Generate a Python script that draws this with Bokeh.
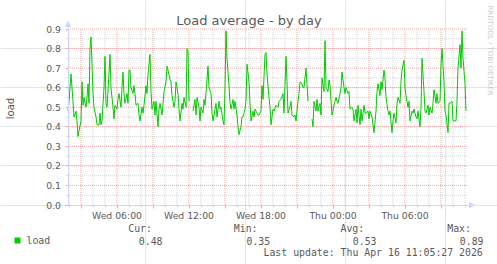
import math
from bokeh.plotting import figure
from bokeh.models import Range1d, FixedTicker, Label, Arrow, NormalHead, LinearAxis
from bokeh.embed import file_html
from bokeh.resources import INLINE

nan = float("nan")

# minutes after Wed 2026-04-15 00:00
minutes = [
    115, 120, 130, 140, 145, 155, 160, 165, 170, 180,
    185, 190, 195, 205, 210, 215, 220, 225, 230, 235,
    240, 245, 255, 260, 270, 275, 280, 285, 295, 300,
    305, 310, 320, 325, 330, 340, 345, 350, 360, 365,
    370, 380, 385, 390, 395, 400, 410, 415, 420, 425,
    430, 440, 445, 450, 455, 465, 470, 475, 485, 490,
    495, 505, 510, 515, 525, 530, 535, 545, 550, 555,
    565, 570, 575, 585, 590, 595, 605, 610, 615, 625,
    630, 635, 645, 650, 655, 665, 670, 675, 685, 690,
    695, 705, 710, 715, 720, 730, 740, 750, 755, 760,
    770, 775, 780, 790, 795, 800, 810, 815, 820, 830,
    835, 840, 850, 855, 860, 870, 875, 880, 890, 895,
    900, 905, 910, 920, 925, 930, 940, 945, 950, 960,
    965, 970, 980, 985, 990, 1000, 1005, 1010, 1020, 1025,
    1030, 1040, 1045, 1050, 1060, 1065, 1070, 1080, 1085, 1090,
    1100, 1105, 1110, 1120, 1125, 1130, 1140, 1145, 1155, 1165,
    1170, 1180, 1190, 1195, 1205, 1210, 1215, 1225, 1230, 1235,
    1245, 1250, 1255, 1265, 1270, 1275, 1285, 1290, 1295, 1305,
    1310, 1315, 1325, 1335, 1340, 1345, 1355, 1360, 1365, 1375,
    1380, 1385, 1395, 1400, 1405, 1415, 1420, 1425, 1435, 1440,
    1445, 1455, 1460, 1465, 1475, 1480, 1485, 1495, 1500, 1505,
    1515, 1520, 1525, 1535, 1540, 1545, 1555, 1560, 1565, 1575,
    1580, 1585, 1595, 1600, 1605, 1615, 1620, 1625, 1635, 1640,
    1645, 1655, 1660, 1665, 1675, 1680, 1685, 1695, 1700, 1705,
    1715, 1720, 1725, 1735, 1740, 1745, 1755, 1760, 1765, 1775,
    1780, 1785, 1795, 1800, 1805, 1815, 1820, 1825, 1835, 1840,
    1845, 1855, 1860, 1865, 1875, 1880, 1885, 1895, 1900, 1905,
    1915, 1920, 1925, 1935, 1940, 1945, 1955, 1960, 1965, 1975,
    1980, 1985, 1995, 2000, 2005, 2015, 2020, 2025, 2035, 2040,
    2045, 2055, 2060, 2065, 2075, 2080, 2085, 2090, 2100, 2105,
]

load = [
    0.48, 0.53, 0.67, 0.53, 0.45, 0.48, 0.43, 0.35, 0.38, 0.43,
    0.63, 0.51, 0.55, 0.50, 0.55, 0.62, 0.52, 0.80, 0.86, 0.72,
    0.57, 0.50, 0.45, 0.41, 0.41, 0.47, 0.41, 0.43, 0.60, 0.76,
    0.52, 0.50, 0.67, 0.77, 0.60, 0.50, 0.44, 0.51, 0.49, 0.54,
    0.57, 0.50, 0.60, 0.68, 0.57, 0.52, 0.57, 0.52, 0.69, 0.69,
    0.60, 0.57, 0.61, 0.57, 0.51, 0.52, 0.46, 0.43, 0.50, 0.47,
    0.51, 0.61, 0.57, 0.67, 0.77, 0.58, 0.49, 0.53, 0.46, 0.53,
    0.40, 0.49, 0.52, 0.46, 0.52, 0.58, 0.63, 0.71, 0.69, 0.64,
    0.63, 0.56, 0.50, 0.53, 0.63, 0.57, 0.49, 0.43, 0.52, 0.49,
    0.55, 0.50, 0.80, 0.79, 0.53, nan, 0.48, 0.54, 0.46, 0.55,
    0.50, 0.43, 0.50, 0.47, 0.54, 0.51, 0.64, 0.71, 0.60, 0.57,
    0.47, 0.43, 0.49, 0.52, 0.45, 0.53, 0.49, 0.50, 0.43, 0.41,
    0.60, 0.89, 0.75, 0.61, 0.52, 0.49, 0.54, 0.49, 0.53, 0.46,
    0.40, 0.36, 0.40, 0.45, 0.45, 0.49, 0.53, 0.72, 0.63, 0.52,
    0.43, 0.48, 0.45, 0.49, 0.47, 0.46, 0.46, 0.48, 0.61, 0.54,
    0.77, 0.78, 0.67, 0.55, 0.50, 0.41, 0.49, 0.48, 0.51, 0.50,
    0.53, 0.54, 0.57, 0.47, 0.76, 0.63, 0.47, 0.50, 0.53, 0.46,
    0.45, 0.46, 0.43, 0.53, 0.57, 0.63, 0.62, 0.60, 0.60, 0.70,
    0.62, 0.53, nan, 0.44, 0.40, 0.53, 0.48, 0.54, 0.48, 0.52,
    0.46, 0.65, 0.58, 0.84, 0.60, 0.58, 0.64, 0.61, 0.46, 0.48,
    0.51, 0.55, 0.53, 0.52, 0.57, 0.60, 0.68, 0.60, 0.57, 0.60,
    0.57, 0.58, 0.49, 0.50, 0.49, 0.43, 0.49, 0.42, 0.51, 0.41,
    0.49, 0.43, 0.51, 0.47, 0.47, 0.48, 0.44, 0.48, 0.45, 0.41,
    0.37, 0.48, 0.58, 0.62, 0.56, 0.63, 0.59, 0.69, 0.65, 0.55,
    0.48, 0.46, 0.48, 0.37, 0.43, 0.47, 0.42, 0.52, 0.55, 0.52,
    0.63, 0.69, 0.74, 0.60, 0.56, 0.50, 0.53, 0.43, 0.48, 0.47,
    0.49, 0.45, 0.44, 0.48, 0.40, 0.50, 0.75, 0.58, 0.48, 0.47,
    0.51, 0.46, 0.50, 0.47, 0.52, 0.59, 0.52, 0.57, 0.52, 0.53,
    0.72, 0.80, 0.63, 0.48, 0.46, 0.37, 0.52, 0.52, 0.53, 0.43,
    0.43, 0.43, 0.53, 0.70, 0.82, 0.70, 0.89, 0.75, 0.62, 0.48,
]

x_start, x_end = 115, 2115      # graph window, minutes after Wed 00:00
y_top = 0.9
x_major = [180, 360, 540, 720, 900, 1080, 1260, 1440, 1620, 1800, 1980]
x_minor = [120, 240, 300, 420, 480, 600, 660, 780, 840, 960, 1020, 1140,
           1200, 1320, 1380, 1500, 1560, 1680, 1740, 1860, 1920, 2040, 2100]
x_tick_labels = {360: "Wed 06:00", 720: "Wed 12:00", 1080: "Wed 18:00",
                 1440: "Thu 00:00", 1800: "Thu 06:00"}

y_major = [0.0, 0.1, 0.2, 0.3, 0.4, 0.5, 0.6, 0.7, 0.8, 0.9]
y_minor = [0.05, 0.15, 0.25, 0.35, 0.45, 0.55, 0.65, 0.75, 0.85]
y_tick_labels = ["0.0", "0.1", "0.2", "0.3", "0.4", "0.5", "0.6", "0.7", "0.8", "0.9"]

title_text = "Load average - by day"
y_label = "load"
series_name = "load"
stat_heads = ["Cur:", "Min:", "Avg:", "Max:"]
stat_values = ["0.48", "0.35", "0.53", "0.89"]
last_update = "Last update: Thu Apr 16 11:05:27 2026"
watermark = "RRDTOOL / TOBI OETIKER"

# ---- layout (pixels) ----
W, H = 497, 264
GL, GR, GT, GB = 67.5, 467.5, 28.5, 204.5   # graph area in canvas pixels
FONT = "#5a5a5a"
AXIS = "#CFD6F8"
MGRID = "#F2A4A4"
GRID = "#D4D4D4"
GREEN = "#00CC00"


def fx(px):
    return x_start + (px - GL) * (x_end - x_start) / (GR - GL)


def fy(py):
    return (GB - py) * y_top / (GB - GT)


p = figure(width=W, height=H, x_range=Range1d(fx(0), fx(W)), y_range=Range1d(fy(H), fy(0)),
           output_backend="svg", toolbar_location=None, min_border=0,
           x_axis_location=None, y_axis_location=None,
           background_fill_color="white", border_fill_color="white")
p.outline_line_color = None
p.title.visible = False

# ---- grid (dotted) ----
p.segment(x0=x_minor, y0=0, x1=x_minor, y1=y_top, line_color=GRID, line_dash="1 1", line_width=1)
p.segment(x0=x_start, y0=y_minor, x1=x_end, y1=y_minor, line_color=GRID, line_dash="1 1", line_width=1)
p.segment(x0=x_major, y0=0, x1=x_major, y1=y_top, line_color=MGRID, line_dash="1 1", line_width=1)
p.segment(x0=x_start, y0=y_major[1:], x1=x_end, y1=y_major[1:], line_color=MGRID, line_dash="1 1",
          line_width=1)

# ---- data ----
p.line(minutes, load, line_color=GREEN, line_width=1)

# ---- axes drawn inside the canvas at fixed locations ----
xa = LinearAxis(fixed_location=0, bounds=(x_start, fx(469)),
                ticker=FixedTicker(ticks=x_major, minor_ticks=x_minor))
xa.major_label_overrides = {t: x_tick_labels.get(t, "") for t in x_major}
ya = LinearAxis(fixed_location=x_start, bounds=(0, fy(24)),
                ticker=FixedTicker(ticks=y_major, minor_ticks=y_minor))
ya.major_label_overrides = {t: s for t, s in zip(y_major, y_tick_labels)}
for ax in (xa, ya):
    ax.axis_line_color = AXIS
    ax.major_tick_line_color = MGRID
    ax.minor_tick_line_color = GRID
    ax.major_tick_out = 3
    ax.major_tick_in = 0
    ax.minor_tick_out = 2
    ax.minor_tick_in = 0
    ax.major_label_text_font = "DejaVu Sans"
    ax.major_label_text_font_size = "9.3px"
    ax.major_label_text_color = FONT
xa.major_label_standoff = 2
ya.major_label_standoff = 4
p.add_layout(xa, "below")
p.add_layout(ya, "left")

# axis arrows
p.add_layout(Arrow(end=NormalHead(size=5, fill_color=AXIS, line_color=AXIS),
                   x_start=fx(468), y_start=0, x_end=fx(474), y_end=0,
                   line_color=AXIS, line_width=1))
p.add_layout(Arrow(end=NormalHead(size=5, fill_color=AXIS, line_color=AXIS),
                   x_start=x_start, y_start=fy(27), y_end=fy(21), x_end=x_start,
                   line_color=AXIS, line_width=1))

# ---- title, axis label, watermark ----
p.add_layout(Label(x=fx(248.5), y=fy(19.5), text=title_text, text_align="center",
                   text_baseline="middle", text_font="DejaVu Sans",
                   text_font_size="13px", text_color=FONT))
p.add_layout(Label(x=fx(10), y=fy(108), text=y_label, angle=math.pi / 2,
                   text_align="center", text_baseline="middle",
                   text_font="DejaVu Sans", text_font_size="10px", text_color=FONT))
p.add_layout(Label(x=fx(489), y=fy(50), text=watermark, angle=-math.pi / 2,
                   text_align="center", text_baseline="middle",
                   text_font="DejaVu Sans", text_font_size="7px", text_color="#cccccc"))

# ---- legend ----
MONO = "DejaVu Sans Mono"
p.quad(left=fx(14), right=fx(20), top=fy(237), bottom=fy(243),
       fill_color=GREEN, line_color=None)
p.add_layout(Label(x=fx(26), y=fy(240), text=series_name, text_align="left",
                   text_baseline="middle", text_font=MONO, text_font_size="9.85px",
                   text_color=FONT))
head_x = [127.7, 233.3, 340.0, 446.7]
val_x = [138.3, 246.0, 352.3, 459.3]
for h, v, hx, vx in zip(stat_heads, stat_values, head_x, val_x):
    p.add_layout(Label(x=fx(hx), y=fy(228), text=h, text_align="left",
                       text_baseline="middle", text_font=MONO, text_font_size="9.85px",
                       text_color=FONT))
    p.add_layout(Label(x=fx(vx), y=fy(240), text=v, text_align="left",
                       text_baseline="middle", text_font=MONO, text_font_size="9.85px",
                       text_color=FONT))
p.add_layout(Label(x=fx(482.3), y=fy(251.7), text=last_update, text_align="right",
                   text_baseline="middle", text_font=MONO, text_font_size="9.85px",
                   text_color=FONT))

open("out.html", "w").write(file_html(p, INLINE))
